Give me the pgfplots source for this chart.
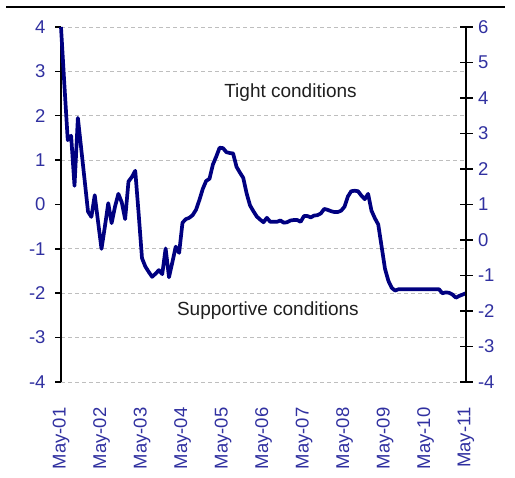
\documentclass[border=0pt]{standalone}
\usepackage{fontspec}
\setmainfont{Liberation Sans}
\usepackage{pgfplots}
\usepackage{pgfplotstable}
\pgfplotsset{compat=1.18}
\definecolor{navyline}{RGB}{0,0,128}
\definecolor{tickblue}{RGB}{48,48,160}
\definecolor{gridgray}{RGB}{190,190,190}

\pgfplotstableread{
m v
0 4.00
1 2.70
2 1.45
3 1.55
4 0.42
5 1.95
6 1.25
7 0.55
8 -0.16
9 -0.28
10 0.21
11 -0.40
12 -1.00
13 -0.50
14 0.03
15 -0.42
16 -0.05
17 0.24
18 0.05
19 -0.33
20 0.52
21 0.62
22 0.76
23 -0.20
24 -1.21
25 -1.40
26 -1.52
27 -1.63
28 -1.56
29 -1.48
30 -1.57
31 -0.99
32 -1.64
33 -1.30
34 -0.95
35 -1.09
36 -0.41
37 -0.33
38 -0.30
39 -0.24
40 -0.12
41 0.10
42 0.35
43 0.53
44 0.58
45 0.90
46 1.08
47 1.28
48 1.27
49 1.18
50 1.16
51 1.15
52 0.85
53 0.72
54 0.60
55 0.25
56 -0.02
57 -0.15
58 -0.27
59 -0.34
60 -0.40
61 -0.30
62 -0.39
63 -0.39
64 -0.39
65 -0.36
66 -0.41
67 -0.40
68 -0.36
69 -0.35
70 -0.35
71 -0.39
72 -0.26
73 -0.26
74 -0.29
75 -0.25
76 -0.24
77 -0.20
78 -0.10
79 -0.12
80 -0.15
81 -0.17
82 -0.17
83 -0.14
84 -0.05
85 0.18
86 0.30
87 0.31
88 0.30
89 0.20
90 0.12
91 0.24
92 -0.14
93 -0.31
94 -0.45
95 -0.95
96 -1.45
97 -1.72
98 -1.88
99 -1.94
100 -1.91
101 -1.91
102 -1.91
103 -1.91
104 -1.91
105 -1.91
106 -1.91
107 -1.91
108 -1.91
109 -1.91
110 -1.91
111 -1.91
112 -1.91
113 -2.00
114 -1.98
115 -1.99
116 -2.03
117 -2.10
118 -2.06
119 -2.03
120 -2.00
}\fci

\begin{document}
\begin{tikzpicture}[x=1pt,y=1pt]
\path[use as bounding box] (0,0) rectangle (515,478);
\draw[line width=2.8pt] (6,471) -- (505,471);
\begin{axis}[
  at={(61pt,96pt)}, anchor=south west,
  width=405pt, height=355pt, scale only axis,
  xmin=0, xmax=120, ymin=-4, ymax=4,
  clip=false,
  axis x line*=bottom, axis y line*=left,
  axis line style={-},
  x axis line style={draw=none},
  y axis line style={black, line width=1.8pt},
  xtick={0,12,...,120},
  xticklabels={May-01,May-02,May-03,May-04,May-05,May-06,May-07,May-08,May-09,May-10,May-11},
  x tick label style={rotate=90, anchor=east, font=\fontsize{18.5}{20}\selectfont, text=tickblue},
  xticklabel shift=16pt,
  x tick style={draw=none},
  ytick={-4,-3,-2,-1,1,2,3,4},
  yticklabels={-4,-3,-2,-1,1,2,3,4},
  extra y ticks={0}, extra y tick labels={0},
  extra y tick style={grid=none},
  y tick label style={font=\fontsize{18.5}{20}\selectfont, text=tickblue},
  yticklabel shift=6pt,
  tick align=outside,
  major tick length=6pt,
  y tick style={black, line width=1.5pt},
  ymajorgrids,
  grid style={gridgray, line width=0.9pt, dash pattern=on 4pt off 3pt},
]
\addplot[navyline, line width=3.7pt, line join=round, no marks] table[x=m, y=v] {\fci};
\node[font=\fontsize{19}{21}\selectfont, text=black!88] at (axis cs:68,2.53) {Tight conditions};
\node[font=\fontsize{19}{21}\selectfont, text=black!88] at (axis cs:61.3,-2.38) {Supportive conditions};
\end{axis}
\begin{axis}[
  at={(61pt,96pt)}, anchor=south west,
  width=405pt, height=355pt, scale only axis,
  xmin=0, xmax=120, ymin=-4, ymax=6,
  axis x line=none, axis y line*=right,
  axis line style={-},
  y axis line style={black, line width=1.8pt},
  ytick={-4,-3,...,6},
  yticklabels={-4,-3,-2,-1,0,1,2,3,4,5,6},
  y tick label style={font=\fontsize{18.5}{20}\selectfont, text=tickblue},
  yticklabel shift=2pt,
  tick align=center,
  major tick length=13pt,
  y tick style={black, line width=1.5pt},
]
\end{axis}
\end{tikzpicture}
\end{document}
